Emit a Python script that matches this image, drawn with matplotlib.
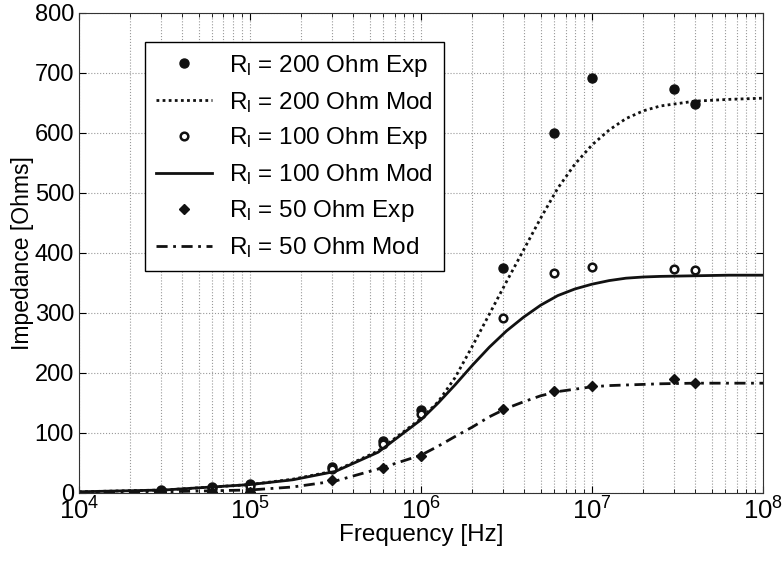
import matplotlib
matplotlib.use("Agg")
import matplotlib.pyplot as plt
from matplotlib.ticker import LogLocator, NullFormatter

plt.rcParams['font.family'] = ['Liberation Sans', 'DejaVu Sans']
plt.rcParams['mathtext.fontset'] = 'custom'
plt.rcParams['mathtext.rm'] = 'Liberation Sans'
plt.rcParams['mathtext.it'] = 'Liberation Sans'

# Experimental frequencies and values
f_exp = [3e4, 6e4, 1e5, 3e5, 6e5, 1e6, 3e6, 6e6, 1e7, 3e7, 4e7]
exp200 = [5, 10, 15, 43, 87, 138, 375, 600, 692, 673, 648]
exp100 = [3, 6, 12, 40, 82, 132, 292, 367, 377, 373, 371]
exp50 = [1, 2, 2, 22, 42, 62, 140, 170, 178, 190, 183]

# Model curves
f_mod = [1e4, 3.16e4, 1e5, 1.78e5, 3.16e5, 5.62e5, 1e6, 1.26e6, 1.58e6, 2e6,
         2.51e6, 3.16e6, 3.98e6, 5.01e6, 6.31e6, 7.94e6, 1e7, 1.26e7, 1.58e7,
         2e7, 2.51e7, 3.98e7, 6.31e7, 1e8]
mod200 = [2, 5, 14, 23, 37, 70, 124, 152, 192, 245, 298, 352, 405, 458, 508,
          548, 580, 605, 624, 637, 645, 653, 656, 658]
mod100 = [2, 5, 14, 22, 36, 68, 122, 150, 180, 213, 243, 270, 293, 313, 329,
          340, 348, 354, 358, 360, 361, 362, 363, 363]
mod50 = [1, 2, 5, 10, 20, 40, 63, 78, 94, 110, 127, 141, 152, 162, 169,
         173, 177, 179, 180, 181, 182, 183, 183, 183]

labels = [r'R$_\mathregular{l}$ = 200 Ohm Exp', r'R$_\mathregular{l}$ = 200 Ohm Mod',
          r'R$_\mathregular{l}$ = 100 Ohm Exp', r'R$_\mathregular{l}$ = 100 Ohm Mod',
          r'R$_\mathregular{l}$ = 50 Ohm Exp', r'R$_\mathregular{l}$ = 50 Ohm Mod']

xticks = [1e4, 1e5, 1e6, 1e7, 1e8]
xticklabels = [r'$\mathregular{10^{4}}$', r'$\mathregular{10^{5}}$', r'$\mathregular{10^{6}}$',
               r'$\mathregular{10^{7}}$', r'$\mathregular{10^{8}}$']
yticks = [0, 100, 200, 300, 400, 500, 600, 700, 800]

fig = plt.figure(figsize=(7.82, 5.62), dpi=100)
ax = fig.add_axes([0.101, 0.1228, 0.8747, 0.8541])

c = '#111111'
h1, = ax.plot(f_exp, exp200, 'o', color=c, ms=6.5, ls='none')
h2, = ax.plot(f_mod, mod200, ls=(0, (1, 1.2)), color=c, lw=2)
h3, = ax.plot(f_exp, exp100, 'o', mfc='white', mec=c, mew=1.8, ms=5.5, ls='none')
h4, = ax.plot(f_mod, mod100, ls='-', color=c, lw=2)
h5, = ax.plot(f_exp, exp50, 'D', color=c, ms=5, ls='none')
h6, = ax.plot(f_mod, mod50, ls=(0, (4, 2, 1, 2)), color=c, lw=2)

ax.set_xscale('log')
ax.set_xlim(1e4, 1e8)
ax.set_ylim(0, 800)
ax.set_xticks(xticks)
ax.set_xticklabels(xticklabels)
ax.xaxis.set_minor_locator(LogLocator(base=10, subs=[2, 3, 4, 5, 6, 7, 8, 9]))
ax.xaxis.set_minor_formatter(NullFormatter())
ax.set_yticks(yticks)
ax.tick_params(axis='both', which='major', labelsize=17, direction='in', top=True, right=True, length=5)
ax.tick_params(axis='x', which='major', labelsize=18.5, pad=3)
ax.tick_params(axis='x', which='minor', direction='in', top=True, length=3)
ax.grid(True, which='major', axis='both', color='#999999', ls=':', lw=0.8)
ax.grid(True, which='minor', axis='x', color='#999999', ls=':', lw=0.8)
ax.set_axisbelow(True)

ax.set_xlabel('Frequency [Hz]', fontsize=17.5, labelpad=0)
ax.set_ylabel('Impedance [Ohms]', fontsize=16.5, labelpad=0.5)

leg = ax.legend([h1, h2, h3, h4, h5, h6], labels, loc='upper left',
                bbox_to_anchor=(0.0965, 0.94), borderaxespad=0, fontsize=17.5,
                handlelength=2.3, fancybox=False, framealpha=1, edgecolor='black',
                labelspacing=0.45, handletextpad=0.7, borderpad=0.45)
leg.get_frame().set_linewidth(1.0)

for s in ax.spines.values():
    s.set_color('#333333')

fig.savefig('out.png', dpi=100)
